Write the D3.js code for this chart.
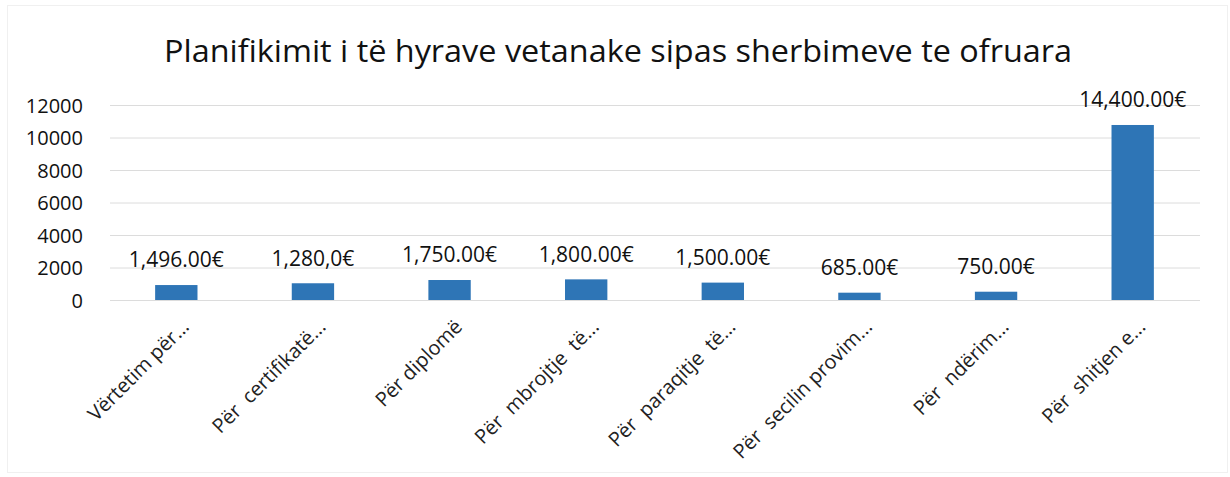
<!DOCTYPE html>
<html>
<head>
<meta charset="utf-8">
<script src="https://cdn.jsdelivr.net/npm/d3@7/dist/d3.min.js"></script>
<style>
  html, body { margin: 0; padding: 0; background: #ffffff; }
  svg { display: block; }
</style>
</head>
<body>
<script>
// ---- data ----
const categories = [
  "Vërtetim për...",
  "Për  certifikatë...",
  "Për diplomë",
  "Për  mbrojtje  të...",
  "Për  paraqitje  të...",
  "Për  secilin provim...",
  "Për  ndërim...",
  "Për  shitjen e..."
];
const barValues = [920, 1030, 1230, 1270, 1070, 450, 510, 10770];
// data label texts as printed on the chart
const labelTexts = ["1,496.00€", "1,280,0€", "1,750.00€", "1,800.00€", "1,500.00€", "685.00€", "750.00€", "14,400.00€"];
const yTicks = [0, 2000, 4000, 6000, 8000, 10000, 12000];
const titleText = "Planifikimit i të hyrave vetanake sipas sherbimeve te ofruara";

// ---- layout ----
const W = 1230, H = 477;
const font = "'Open Sans', 'Noto Sans', sans-serif";
const svg = d3.select("body").append("svg").attr("width", W).attr("height", H);

svg.append("rect").attr("x", 7.5).attr("y", 5.5).attr("width", 1220).attr("height", 467)
  .attr("fill", "#fff").attr("stroke", "#f0f0f0").attr("stroke-width", 1);

const x = d3.scaleBand().domain(categories).range([108, 1201]).paddingInner(0.69).paddingOuter(0.345);
const y = d3.scaleLinear().domain([0, 12000]).range([300, 105]);

// title
svg.append("text").attr("x", 618).attr("y", 62).attr("text-anchor", "middle")
  .attr("font-family", font).attr("font-size", 31).attr("fill", "#111")
  .attr("textLength", 908).attr("lengthAdjust", "spacingAndGlyphs")
  .text(titleText);

// gridlines
const yAxis = d3.axisLeft(y).tickValues(yTicks).tickSize(-(1200 - 110)).tickFormat(d3.format("d")).tickPadding(27);
const gy = svg.append("g").attr("transform", "translate(110,0)").call(yAxis);
gy.select(".domain").remove();
gy.selectAll(".tick line").attr("stroke", "#dcdcdc").attr("stroke-width", 1);
gy.selectAll(".tick text").attr("font-family", font).attr("font-size", 20).attr("fill", "#111")
  .attr("dy", "0.35em");

// bars
svg.append("g").selectAll("rect").data(categories).join("rect")
  .attr("x", d => x(d))
  .attr("width", x.bandwidth())
  .attr("y", (d, i) => y(barValues[i]))
  .attr("height", (d, i) => y(0) - y(barValues[i]))
  .attr("fill", "#2E75B6");

// data labels
svg.append("g").selectAll("text").data(categories).join("text")
  .attr("x", d => x(d) + x.bandwidth() / 2)
  .attr("y", (d, i) => y(barValues[i]) - 25)
  .attr("dy", "0.35em")
  .attr("text-anchor", "middle")
  .attr("font-family", font).attr("font-size", 21).attr("fill", "#111")
  .text((d, i) => labelTexts[i]);

// x axis labels
const xAxis = d3.axisBottom(x).tickSize(0).tickPadding(0);
const gx = svg.append("g").attr("transform", "translate(0,300)").call(xAxis);
gx.select(".domain").remove();
gx.selectAll(".tick text")
  .attr("font-family", font).attr("font-size", 20).attr("fill", "#222")
  .attr("text-anchor", "end")
  .attr("x", 0).attr("y", 0).attr("dy", 0)
  .attr("transform", "translate(14,28) rotate(-45)")
  .style("white-space", "pre")
  .attr("xml:space", "preserve");
</script>
</body>
</html>
